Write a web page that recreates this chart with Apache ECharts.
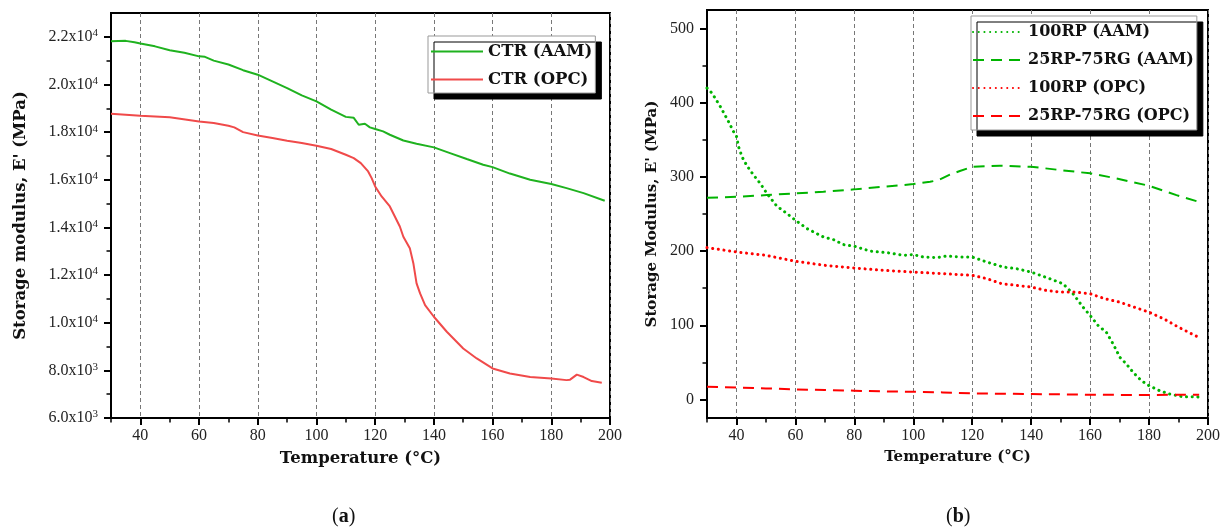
<!DOCTYPE html>
<html lang="en">
<head>
<meta charset="UTF-8">
<title>Storage modulus vs temperature</title>
<script src="https://cdn.jsdelivr.net/npm/echarts@6/dist/echarts.min.js"></script>
<style>
  html, body { margin: 0; padding: 0; background: #fff; }
  #chart { width: 1227px; height: 528px; }
</style>
</head>
<body>
<div id="chart"></div>
<script>
// (a) control mixes, E' in MPa
var ctrAamT = [30, 35, 38, 40, 45, 50, 55, 60, 62, 65, 70, 75, 80, 85, 90, 95, 100, 105, 110, 112.7, 114.4, 116.5, 118.2, 120, 122.7, 125, 129.6, 134.1, 140, 145.5, 151.2, 156.8, 160, 165.9, 172.8, 180, 185.2, 191, 198.2];
var ctrAamE = [21815, 21830, 21770, 21720, 21600, 21440, 21330, 21180, 21160, 21000, 20840, 20600, 20410, 20130, 19850, 19540, 19290, 18940, 18640, 18600, 18310, 18350, 18200, 18130, 18030, 17890, 17650, 17510, 17360, 17120, 16870, 16630, 16530, 16260, 16000, 15820, 15650, 15440, 15120];
var ctrOpcT = [30, 40, 50, 60, 65, 70, 72, 75, 80, 85, 90, 95, 100, 105, 110, 112.7, 115.1, 117.6, 118.8, 120, 122.2, 125, 128.4, 129.6, 131.8, 133, 134.1, 135.3, 137, 140, 144.4, 150, 154.6, 160, 165.9, 172.8, 180, 185.2, 186.4, 188.7, 191, 193.8, 197.2];
var ctrOpcE = [18770, 18690, 18620, 18450, 18380, 18270, 18200, 18000, 17860, 17750, 17640, 17540, 17430, 17290, 17050, 16910, 16700, 16350, 16070, 15720, 15300, 14880, 14040, 13610, 13130, 12500, 11650, 11230, 10740, 10250, 9620, 8920, 8500, 8080, 7870, 7720, 7660, 7590, 7610, 7820, 7720, 7550, 7480];

// (b) rubber mixes
var rpAamT = [30, 31.7, 34.5, 37.3, 39, 40, 40.7, 41.9, 43.6, 45.8, 48.1, 50.3, 53.7, 57.1, 60, 63.9, 69.5, 72.9, 76.3, 80, 85.3, 92.1, 96.6, 100, 103.4, 107.9, 111.3, 115.8, 120, 124.9, 130.5, 135, 140, 146.3, 150.8, 154.2, 157.6, 160, 162.7, 165.5, 167.8, 170.1, 172.3, 174.6, 177.4, 180, 183.6, 187, 191.5, 196, 198];
var rpAamE = [419.7, 413, 395, 374.6, 361, 355, 340.8, 327, 314.7, 302.5, 291, 277.8, 260.6, 250.7, 241.6, 230.4, 219, 215.5, 208.8, 206.5, 200, 197.4, 194.3, 195.3, 192, 191.2, 193.4, 192, 192, 185.3, 178.5, 176.3, 171.7, 162.8, 156, 142.5, 124.4, 113.2, 99.7, 90.6, 74.9, 56.8, 47.9, 36.5, 25.3, 18.5, 11.8, 7.3, 3.6, 3.6, 2.7];
var rgAamT = [30, 40, 50.3, 60, 69.5, 80, 89.9, 100, 105.7, 108.5, 112.4, 115.8, 120, 129.4, 140, 149.7, 160, 168.9, 180, 189.3, 198];
var rgAamE = [271.8, 273.2, 275.5, 277.8, 280, 283.2, 286.7, 290.3, 293.4, 295.7, 303, 307.9, 313.7, 315.1, 313.7, 309.3, 304.8, 298, 288, 275.5, 265];
var rpOpcT = [30, 40, 50, 60, 70, 80, 90, 100, 110, 120, 125, 130, 135, 140, 145, 150, 155, 160, 165, 170, 175, 180, 185, 190, 196.8];
var rpOpcE = [204.7, 198.8, 194.3, 186.2, 180.8, 177.2, 174, 171.7, 169.6, 167.3, 162.8, 156, 153.8, 151.5, 147, 144.7, 144.7, 142.5, 135.8, 131.2, 124.4, 117.6, 108.7, 97.4, 83.8];
var rgOpcT = [30, 40, 50, 60, 70, 80, 90, 100, 110, 120, 140, 160, 180, 190, 197];
var rgOpcE = [17.2, 16.2, 14.9, 13.5, 12.7, 11.8, 10.8, 10.4, 9.5, 8.1, 7.3, 6.4, 5.9, 6.4, 6.4];

// tick positions
var xMajorTicks = [40, 60, 80, 100, 120, 140, 160, 180, 200];
var xMinorTicks = [30, 50, 70, 90, 110, 130, 150, 170, 190];
var leftYMajorTicks = [6000, 8000, 10000, 12000, 14000, 16000, 18000, 20000, 22000];
var leftYMinorTicks = [7000, 9000, 11000, 13000, 15000, 17000, 19000, 21000];
var rightYMajorTicks = [0, 100, 200, 300, 400, 500];
var rightYMinorTicks = [50, 150, 250, 350, 450];

var serif = 'DejaVu Serif';
var numFont = 'Liberation Serif';

function pairs(t, e) {
  var out = [];
  for (var i = 0; i < t.length; i++) out.push([t[i], e[i]]);
  return out;
}

function titleStyle(size) {
  return { fontFamily: serif, fontWeight: 'bold', fontSize: size, color: '#111' };
}

function xMain(grid, size) {
  return {
    type: 'value', gridIndex: grid, position: 'bottom', min: 30, max: 200,
    axisLine: { onZero: false, lineStyle: { color: '#000', width: 2 } },
    axisTick: { customValues: xMajorTicks, length: 7, lineStyle: { color: '#000', width: 2 } },
    axisLabel: { customValues: xMajorTicks, margin: 10, color: '#222', fontFamily: numFont, fontSize: 16 },
    splitLine: { show: true, lineStyle: { color: '#777', width: 1, type: [4, 3] } },
    name: 'Temperature (°C)', nameLocation: 'middle', nameGap: 32, nameTextStyle: titleStyle(size)
  };
}
function minorAxis(grid, pos, min, max, ticks) {
  return {
    type: 'value', gridIndex: grid, position: pos, min: min, max: max,
    axisLine: { show: false, onZero: false },
    axisTick: { customValues: ticks, length: 4.5, lineStyle: { color: '#000', width: 1.5 } },
    axisLabel: { show: false }, splitLine: { show: false }
  };
}

function legendBox(names, left, top, itemWidth, gap, pad, size) {
  return {
    data: names, orient: 'vertical', left: left, top: top,
    itemWidth: itemWidth, itemHeight: 12, itemGap: gap, padding: pad,
    itemStyle: { opacity: 0 },
    borderColor: '#999', borderWidth: 1, backgroundColor: '#fff',
    shadowColor: '#000', shadowOffsetX: 6, shadowOffsetY: 6, shadowBlur: 0,
    selectedMode: false, textStyle: titleStyle(size)
  };
}

// panel captions (a) / (b)
function caption(letter, left) {
  return {
    text: '({b|' + letter + '})', left: left, top: 507, padding: 0,
    textStyle: {
      fontFamily: numFont, fontSize: 20, fontWeight: 'normal', color: '#111',
      rich: { b: { fontFamily: numFont, fontSize: 20, fontWeight: 'bold', color: '#111' } }
    }
  };
}

var option = {
  animation: false,
  backgroundColor: '#fff',
  title: [caption('a', 332), caption('b', 946)],
  grid: [
    { left: 111, top: 13, width: 499, height: 405, show: true, borderColor: '#000', borderWidth: 2 },
    { left: 707, top: 10, width: 501, height: 408, show: true, borderColor: '#000', borderWidth: 2 }
  ],
  xAxis: [
    xMain(0, 16.5), minorAxis(0, 'bottom', 30, 200, xMinorTicks),
    xMain(1, 15), minorAxis(1, 'bottom', 30, 200, xMinorTicks)
  ],
  yAxis: [
    {
      type: 'value', gridIndex: 0, position: 'left', min: 6000, max: 23000,
      axisLine: { onZero: false, lineStyle: { color: '#000', width: 2 } },
      axisTick: { customValues: leftYMajorTicks, length: 7, lineStyle: { color: '#000', width: 2 } },
      axisLabel: {
        customValues: leftYMajorTicks, margin: 13,
        formatter: function (v) {
          var exp = v >= 10000 ? 4 : 3;
          return '{m|' + (v / Math.pow(10, exp)).toFixed(1) + 'x10}{e|' + exp + '}';
        },
        rich: {
          m: { fontFamily: numFont, fontSize: 16, color: '#222', lineHeight: 18 },
          e: { fontFamily: numFont, fontSize: 11, color: '#222', lineHeight: 11, verticalAlign: 'top' }
        }
      },
      splitLine: { show: false },
      name: "Storage modulus, E' (MPa)", nameLocation: 'middle', nameGap: 82, nameTextStyle: titleStyle(16.5)
    },
    minorAxis(0, 'left', 6000, 23000, leftYMinorTicks),
    {
      type: 'value', gridIndex: 1, position: 'left', min: -25, max: 525,
      axisLine: { onZero: false, lineStyle: { color: '#000', width: 2 } },
      axisTick: { customValues: rightYMajorTicks, length: 7, lineStyle: { color: '#000', width: 2 } },
      axisLabel: { customValues: rightYMajorTicks, margin: 13, color: '#222', fontFamily: numFont, fontSize: 16 },
      splitLine: { show: false },
      name: "Storage Modulus, E' (MPa)", nameLocation: 'middle', nameGap: 47, nameTextStyle: titleStyle(15)
    },
    minorAxis(1, 'left', -25, 525, rightYMinorTicks)
  ],
  legend: [
    legendBox(['CTR (AAM)', 'CTR (OPC)'], 428, 36, 52, 11, [7, 3, 5, 2], 16.5),
    legendBox(['100RP (AAM)', '25RP-75RG (AAM)', '100RP (OPC)', '25RP-75RG (OPC)'], 971, 16, 50, 12, [8, 3, 6, 1], 16)
  ],
  series: [
    { name: 'CTR (AAM)', type: 'line', xAxisIndex: 0, yAxisIndex: 0, symbol: 'none',
      data: pairs(ctrAamT, ctrAamE), lineStyle: { color: '#1fb21f', width: 2 }, itemStyle: { color: '#1fb21f' } },
    { name: 'CTR (OPC)', type: 'line', xAxisIndex: 0, yAxisIndex: 0, symbol: 'none',
      data: pairs(ctrOpcT, ctrOpcE), lineStyle: { color: '#f04a4a', width: 2 }, itemStyle: { color: '#f04a4a' } },
    { name: '100RP (AAM)', type: 'line', xAxisIndex: 2, yAxisIndex: 2, symbol: 'none',
      data: pairs(rpAamT, rpAamE), lineStyle: { color: '#00b400', width: 3, type: [0.1, 5.6], cap: 'round' }, itemStyle: { color: '#00b400' } },
    { name: '25RP-75RG (AAM)', type: 'line', xAxisIndex: 2, yAxisIndex: 2, symbol: 'none',
      data: pairs(rgAamT, rgAamE), lineStyle: { color: '#00b400', width: 2, type: [11, 7] }, itemStyle: { color: '#00b400' } },
    { name: '100RP (OPC)', type: 'line', xAxisIndex: 2, yAxisIndex: 2, symbol: 'none',
      data: pairs(rpOpcT, rpOpcE), lineStyle: { color: '#ff0000', width: 3, type: [0.1, 5.6], cap: 'round' }, itemStyle: { color: '#ff0000' } },
    { name: '25RP-75RG (OPC)', type: 'line', xAxisIndex: 2, yAxisIndex: 2, symbol: 'none',
      data: pairs(rgOpcT, rgOpcE), lineStyle: { color: '#ff0000', width: 2, type: [11, 7] }, itemStyle: { color: '#ff0000' } }
  ]
};

var chart = echarts.init(document.getElementById('chart'));
chart.setOption(option);
</script>
</body>
</html>
